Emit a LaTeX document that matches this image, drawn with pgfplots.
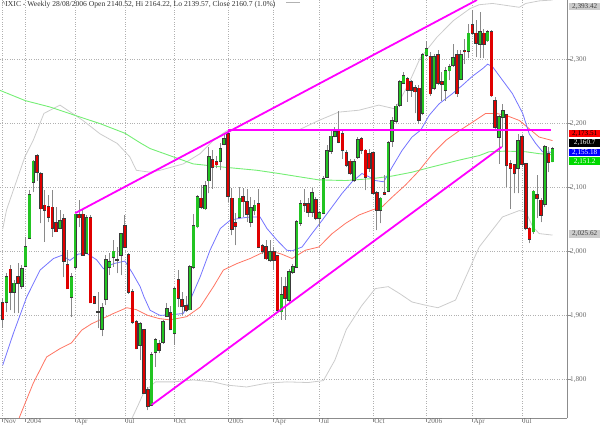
\documentclass[border=0pt]{standalone}
\usepackage{pgfplots}
\pgfplotsset{compat=1.18}
\usepackage{pgfplotstable}
\usepackage{fontspec}
\setmainfont{Liberation Serif}

\definecolor{axgray}{HTML}{8C8C8C}
\definecolor{gridgray}{HTML}{B0B0B0}
\definecolor{labgray}{HTML}{6A6A6A}
\definecolor{wick}{HTML}{8A8A8A}
\definecolor{cup}{HTML}{22C422}
\definecolor{cdown}{HTML}{E00000}
\definecolor{cedge}{HTML}{3A3A3A}
\definecolor{mablue}{HTML}{7474FF}
\definecolor{mared}{HTML}{FF7462}
\definecolor{magreen}{HTML}{74EE74}
\definecolor{band}{HTML}{CCCCCC}
\definecolor{trend}{HTML}{FF00FF}

% weekly candles: index, open, high, low, close
\pgfplotstableread{
i o h l c
0 1920 1927 1880 1894
1 1921 1966 1905 1960
2 1972 1979 1908 1937
3 1937 1955 1903 1950
4 1960 1982 1903 1950
5 1946 1979 1942 1973
6 1977 2023 1976 2007
7 2021 2096 2020 2088
8 2109 2143 2093 2141
9 2149 2153 2111 2124
10 2121 2124 2044 2067
11 2072 2096 2015 2065
12 2070 2088 2046 2054
13 2069 2096 2023 2037
14 2045 2070 2031 2031
15 2037 2065 2036 2048
16 2051 2059 1960 1985
17 1979 2002 1942 1942
18 1929 1966 1898 1960
19 1976 2059 1973 2058
20 2057 2080 2038 2053
21 2058 2065 1994 1995
22 1997 2057 1997 2052
23 2053 2057 1919 1920
24 1929 1929 1918 1919
25 1905 1937 1880 1905
26 1879 1919 1867 1912
27 1925 1994 1916 1987
28 1976 1997 1963 1984
29 1991 2018 1976 2000
30 1987 2007 1966 1987
31 1994 2028 1963 2027
32 2040 2057 2005 2007
33 1994 1997 1934 1937
34 1937 1942 1887 1890
35 1890 1893 1847 1848
36 1854 1890 1830 1887
37 1877 1879 1777 1778
38 1783 1788 1752 1758
39 1760 1842 1758 1838
40 1843 1864 1820 1862
41 1856 1861 1841 1846
42 1858 1893 1856 1890
43 1899 1919 1898 1910
44 1904 1914 1877 1878
45 1872 1945 1854 1942
46 1955 1971 1913 1927
47 1924 1937 1900 1914
48 1915 1930 1905 1908
49 1909 1979 1908 1976
50 1976 2059 1973 2040
51 2039 2088 2036 2085
52 2083 2104 2067 2070
53 2067 2111 2065 2102
54 2111 2164 2091 2148
55 2143 2158 2098 2132
56 2140 2150 2130 2136
57 2141 2169 2127 2161
58 2168 2184 2166 2176
59 2184 2187 2078 2087
60 2083 2100 2025 2035
61 2045 2060 2010 2040
62 2054 2101 2052 2083
63 2086 2100 2054 2078
64 2078 2098 2046 2059
65 2046 2085 2038 2068
66 2064 2080 2057 2072
67 2074 2098 2005 2007
68 2009 2012 1996 2000
69 2007 2018 1987 1989
70 1986 2018 1984 1999
71 1999 2007 1971 1986
72 1993 1994 1903 1908
73 1906 1960 1893 1932
74 1945 1960 1893 1927
75 1924 1972 1920 1968
76 1968 1980 1965 1976
77 1976 2050 1975 2046
78 2045 2080 2040 2075
79 2075 2097 2062 2072
80 2074 2083 2054 2062
81 2062 2099 2054 2091
82 2081 2085 2049 2052
83 2052 2063 2038 2060
84 2060 2118 2058 2114
85 2117 2166 2116 2157
86 2157 2192 2153 2180
87 2180 2195 2179 2187
88 2191 2220 2169 2171
89 2184 2190 2145 2158
90 2154 2158 2132 2135
91 2141 2145 2120 2122
92 2112 2145 2109 2140
93 2148 2179 2145 2175
94 2176 2179 2153 2158
95 2158 2160 2096 2117
96 2153 2160 2125 2130
97 2154 2156 2088 2091
98 2092 2094 2033 2065
99 2065 2085 2044 2083
100 2091 2119 2088 2090
101 2095 2173 2093 2170
102 2173 2210 2164 2204
103 2204 2231 2201 2227
104 2229 2268 2226 2265
105 2264 2280 2262 2274
106 2270 2273 2234 2253
107 2265 2268 2242 2252
108 2256 2260 2216 2250
109 2255 2260 2200 2206
110 2217 2310 2213 2307
111 2307 2330 2304 2317
112 2304 2312 2244 2247
113 2255 2309 2252 2304
114 2307 2315 2260 2263
115 2265 2281 2236 2262
116 2252 2289 2236 2283
117 2283 2294 2268 2289
118 2291 2325 2289 2303
119 2307 2315 2242 2247
120 2270 2315 2268 2307
121 2314 2333 2294 2313
122 2313 2356 2302 2341
123 2354 2377 2338 2341
124 2341 2362 2304 2326
125 2325 2374 2302 2343
126 2341 2348 2302 2325
127 2330 2346 2328 2343
128 2343 2346 2242 2244
129 2235 2242 2192 2195
130 2179 2213 2137 2210
131 2210 2231 2163 2220
132 2213 2213 2101 2135
133 2137 2143 2067 2130
134 2136 2137 2091 2122
135 2130 2184 2091 2173
136 2179 2182 2132 2137
137 2137 2137 2033 2036
138 2036 2038 2013 2020
139 2031 2096 2028 2094
140 2088 2119 2052 2083
141 2080 2083 2046 2057
142 2074 2166 2070 2163
143 2152 2163 2124 2140
144 2140.52 2164.22 2139.57 2160.7
}\candles

\begin{document}
\begin{tikzpicture}
\useasboundingbox (0,0) rectangle (600pt,426pt);
\begin{axis}[
    at={(0pt,8pt)}, anchor=south west,
    scale only axis, width=567pt, height=418pt,
    xmin=-0.71, xmax=147.8, ymin=1739.5, ymax=2393.4,
    axis x line*=bottom, axis y line*=right,
    axis line style={draw=axgray, line width=0.8pt},
    xtick={0,6,19,32,45,59,71,83,97,111,123,136},
    xticklabels={Nov,2004,Apr,Jul,Oct,2005,Apr,Jul,Oct,2006,Apr,Jul},
    ytick={1800,1900,2000,2100,2200,2300},
    grid=major,
    grid style={dotted, color=gridgray, line width=0.7pt},
    tick align=outside, major tick length=3.5pt,
    tick style={color=axgray, line width=0.6pt},
    ticklabel style={font=\fontsize{7.2}{8}\selectfont, text=labgray},
    xticklabel style={anchor=north west, inner sep=0pt, xshift=1pt, yshift=3.2pt},
    yticklabel style={anchor=west, inner sep=0pt, xshift=-0.5pt},
    /pgf/number format/1000 sep={,},
    /pgf/number format/assume math mode=true,
    candle/.style={only marks, mark=*, mark size=0pt,
        mark options={draw=none, fill=none},
        error bars/y dir=plus, error bars/y explicit,
        error bars/error mark=none},
]
% Bollinger bands
\addplot[band, line width=0.8pt] coordinates {
(0,2035) (1,2065) (5.8,2148) (8,2174) (10.8,2216) (15,2229) (21,2205)
(25.5,2184) (30,2169) (33.3,2148) (35,2127) (38.6,2124) (41.2,2127)
(47.3,2137) (51.7,2153) (55.2,2174) (58.7,2189) (62.2,2191) (70.9,2190)
(75.3,2190) (77.5,2190) (82.8,2205) (88,2218) (93.3,2221) (98.5,2229)
(102.8,2223) (106.3,2262) (109.3,2302) (113.7,2335) (118,2361)
(122.4,2380) (124.8,2386) (128.3,2388) (131.8,2385) (135.3,2382)
(137,2388) (140.5,2392) (144,2393.42)
};
\addplot[band, line width=0.8pt] coordinates {
(33.9,1739.5) (35.5,1760) (37,1780) (40,1796) (44.7,1796) (49.9,1799)
(55.2,1796) (58.7,1791) (63.9,1788) (69.2,1794) (74.4,1796) (80,1795)
(84,1798) (87,1830) (90,1878) (94,1915) (97.6,1942) (101,1945)
(104,1934) (107.2,1921) (110.7,1916) (114,1912) (118.6,1924)
(124.8,2007) (130.9,2054) (135.3,2064) (137,2062) (138.8,2039)
(140.5,2028) (144,2025.62)
};
% moving averages
\addplot[magreen, line width=0.9pt] coordinates {
(-0.7,2252) (5.9,2236) (12.4,2226) (18.9,2213) (25.5,2200) (32,2185)
(36,2170) (38.6,2161) (44.7,2148) (49.9,2137) (57.8,2132) (66.6,2127)
(72.3,2122) (77.5,2117) (82.8,2112) (89.8,2111) (96.8,2114) (102,2118)
(107.2,2124) (111.6,2131) (114.3,2135) (119.6,2143) (124.8,2150)
(127.4,2156) (131.8,2157) (137,2156) (140.5,2153) (144,2151.2)
};
\addplot[mared, line width=0.8pt] coordinates {
(4.3,1739.5) (8,1794) (11.5,1835) (15,1848) (18,1857) (20.7,1877)
(23.3,1887) (25.5,1893) (29,1903) (32.5,1912) (35,1909) (38,1900)
(41,1895) (43.8,1893) (48.2,1898) (51.7,1913) (55.2,1945) (57.8,1971)
(61.3,1981) (64.8,1989) (68.3,1999) (71.8,1998) (73,1996) (75.8,1989)
(79.3,2002) (82.8,2007) (86.3,2028) (89.8,2044) (93.3,2057) (96.8,2065)
(99.4,2070) (102,2085) (105.5,2104) (109,2126) (112.6,2153) (116.1,2174)
(119.6,2189) (123,2202) (126.5,2216) (129.2,2216) (131.8,2213)
(135.3,2205) (137.9,2192) (140.5,2179) (144,2173.51)
};
\addplot[mablue, line width=0.8pt] coordinates {
(0,1822) (2.8,1872) (6.3,1929) (9.8,1971) (13.3,1989) (15.5,1994)
(17.6,1986) (19.8,1996) (22,1997) (24.6,1987) (26.4,1973) (29,1981)
(32,1985) (34,1966) (36,1945) (37,1929) (38.6,1908) (41.2,1900)
(44,1901) (47.3,1903) (49.1,1924) (51.7,1960) (54.3,2002) (57,2036)
(59.6,2049) (62.2,2052) (64.8,2054) (67.4,2054) (69.2,2036) (71.8,2018)
(74.4,2002) (75.8,2001) (78.4,2007) (81,2028) (83.7,2049) (86.3,2070)
(88.9,2091) (91.5,2109) (94.1,2122) (95.9,2117) (97.6,2111) (99.8,2109)
(102,2132) (104.6,2158) (107.2,2179) (109.5,2190) (111.7,2213)
(114.3,2231) (117.8,2247) (120.4,2260) (123,2274) (125.7,2286)
(127,2293) (128.3,2289) (130.9,2268) (133.5,2247) (136.2,2216)
(137.9,2184) (139.6,2169) (141.4,2156) (144,2155.18)
};
% wicks
\addplot[candle, error bars/error bar style={line width=0.9pt, color=wick}]
    table[x=i, y=l, y error expr=\thisrow{h}-\thisrow{l}] {\candles};
% body edges
\addplot[candle, error bars/error bar style={line width=3.5pt, color=cedge}]
    table[x=i, y expr={min(\thisrow{o},\thisrow{c})-1.3},
          y error expr={abs(\thisrow{c}-\thisrow{o})+2.6}] {\candles};
% rising bodies
\addplot[candle, error bars/error bar style={line width=2.3pt, color=cup}]
    table[x=i, y=o, y error expr={max(\thisrow{c}-\thisrow{o},0)}] {\candles};
% falling bodies
\addplot[candle, error bars/error bar style={line width=2.3pt, color=cdown}]
    table[x=i, y=c, y error expr={max(\thisrow{o}-\thisrow{c},0)}] {\candles};
% trend lines
\addplot[trend, line width=1.8pt] coordinates {(19,2060) (124.2,2393.4)};
\addplot[trend, line width=1.8pt] coordinates {(39,1760) (130.7,2163.6)};
\addplot[trend, line width=1.8pt] coordinates {(59,2190) (143.6,2190)};
\end{axis}
% header and last-value boxes
\node[anchor=west, inner sep=0pt, text=black!80, font=\fontsize{7.6}{8}\selectfont]
  at (1.7pt,421.8pt) {\textasciicircum IXIC - Weekly 28/08/2006 Open 2140.52, Hi 2164.22, Lo 2139.57, Close 2160.7 (1.0\%)};
\draw[gray!60, line width=0.8pt] (286pt,423.5pt) -- (300pt,423.5pt);
\tikzset{lastval/.style={anchor=west, inner sep=0pt, minimum width=31pt,
  minimum height=7.4pt, font=\fontsize{7.2}{7.4}\selectfont}}
\node[lastval, fill=band, text=black!75] at (569pt,419.3pt) {2,393.42};
\node[lastval, fill=red, text=black] at (569pt,292.3pt) {2,173.51};
\node[lastval, fill=black, text=white] at (569pt,283pt) {2,160.7};
\node[lastval, fill=blue, text=white] at (569pt,273.7pt) {2,155.18};
\node[lastval, fill=green!85!black, text=white] at (569pt,264.8pt) {2,151.2};
\node[lastval, fill=band, text=black!75] at (569pt,192pt) {2,025.62};
\end{tikzpicture}
\end{document}
